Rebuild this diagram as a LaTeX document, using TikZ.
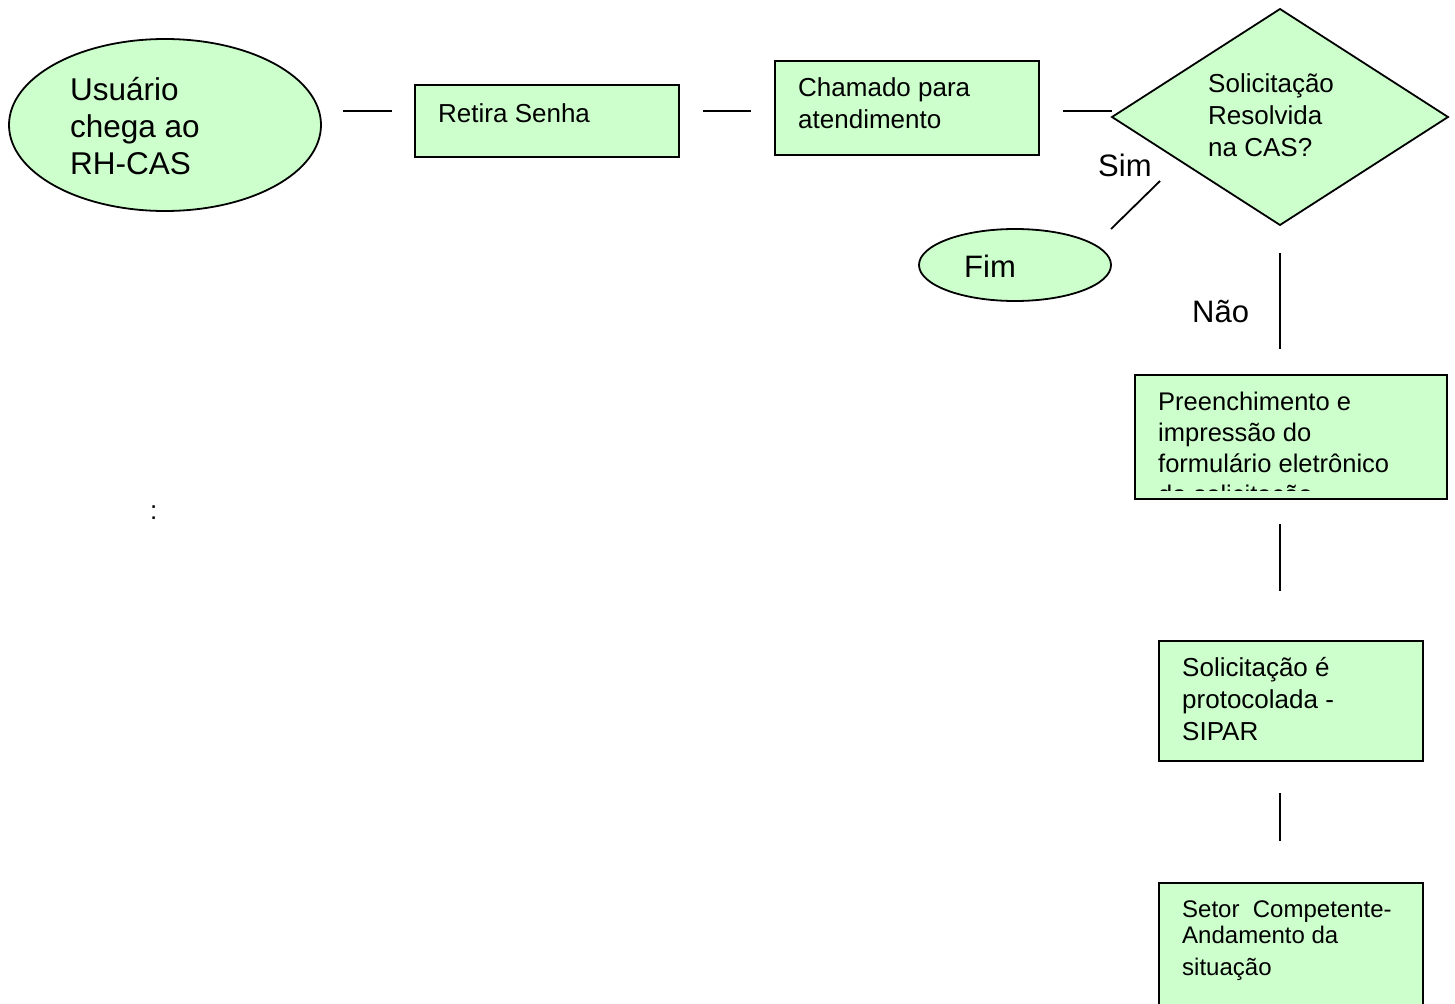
\documentclass[tikz,border=0pt]{standalone}
\usepackage{fontspec}
\setmainfont{Liberation Sans}
\usetikzlibrary{shapes.geometric,calc}
\definecolor{boxgreen}{HTML}{CCFFCC}
\begin{document}
\begin{tikzpicture}[x=1pt,y=-1pt,
  stepbox/.style={draw=black, fill=boxgreen, line width=1.8pt, rectangle, inner sep=0pt, outer sep=0pt, anchor=north west},
  oval/.style={draw=black, fill=boxgreen, line width=1.8pt, ellipse, inner sep=0pt, outer sep=0pt},
  decision/.style={draw=black, fill=boxgreen, line width=1.8pt, diamond, inner sep=0pt, outer sep=0pt},
  link/.style={draw=black, line width=1.8pt},
  txt/.style={inner sep=0pt, anchor=base west, align=left},
]
\useasboundingbox (0,0) rectangle (1455,1003);

% start (multi-line texts are placed by the baseline of their last line)
\node[oval, minimum width=312pt, minimum height=172pt] (usr) at (165,125) {};
\node[txt, font=\fontsize{31.5}{37}\selectfont] (usrt) at (70,175) {Usuário\\chega ao\\RH-CAS};

% first steps
\node[stepbox, minimum width=264pt, minimum height=72pt] (senha) at (415,85) {};
\node[txt, font=\fontsize{26}{32}\selectfont] (senhat) at (438,123) {Retira Senha};

\node[stepbox, minimum width=264pt, minimum height=94pt] (chamado) at (775,61) {};
\node[txt, font=\fontsize{26}{32}\selectfont] (chamadot) at (798,129) {Chamado para\\atendimento};

% decision
\node[decision, minimum width=336pt, minimum height=216pt] (dec) at (1280,117) {};
\node[txt, font=\fontsize{26}{32}\selectfont] (dect) at (1208,157) {Solicitação\\Resolvida\\na CAS?};

% end
\node[oval, minimum width=192pt, minimum height=72pt] (fim) at (1015,265) {};
\node[txt, font=\fontsize{31}{37}\selectfont] (fimt) at (964,277) {Fim};

% remaining steps
\node[stepbox, minimum width=312pt, minimum height=124pt] (prench) at (1135,375) {};
\begin{scope}
  \clip (prench.north west) rectangle ([yshift=9pt]prench.south east);
  \node[txt, font=\fontsize{25.5}{31}\selectfont] (prencht) at (1158,503)
    {Preenchimento e\\impressão do\\formulário eletrônico\\da solicitação};
\end{scope}

\node[stepbox, minimum width=264pt, minimum height=120pt] (proto) at (1159,641) {};
\node[txt, font=\fontsize{26}{32}\selectfont] (protot) at (1182,740) {Solicitação é\\protocolada -\\SIPAR};

\node[stepbox, minimum width=264pt, minimum height=140pt] (setor) at (1159,883) {};
\node[txt, font=\fontsize{24}{26}\selectfont] (setort) at (1182,975) {Setor\ \ Competente-\\Andamento da\\[6pt]situação};

% connectors
\draw[link] ($(usr.east |- senha.west)+(22,-10)$) -- ($(senha.west)+(-23,-10)$);
\draw[link] ($(senha.east)+(24,-10)$) -- ($(chamado.west)+(-24,3)$);
\draw[link] ($(chamado.east)+(24,3)$) -- ($(dec.west)+(0,-6)$);
\draw[link] (fim.north -| fim.east) -- ++(49,-48);
\draw[link] ($(dec.south)+(0,28)$) -- ($(prench.north -| dec.south)+(0,-26)$);
\draw[link] ($(prench.south -| dec.south)+(0,25)$) -- ($(proto.north -| dec.south)+(0,-50)$);
\draw[link] ($(proto.south -| dec.south)+(0,32)$) -- ($(setor.north -| dec.south)+(0,-42)$);

% branch labels
\node[txt, font=\fontsize{31}{37}\selectfont] (sim) at (1098,177) {Sim};
\node[txt, font=\fontsize{31}{37}\selectfont] (nao) at (1192,322) {Não};

\node[txt, font=\fontsize{26}{32}\selectfont] (colon) at (150,519) {:};
\end{tikzpicture}
\end{document}
